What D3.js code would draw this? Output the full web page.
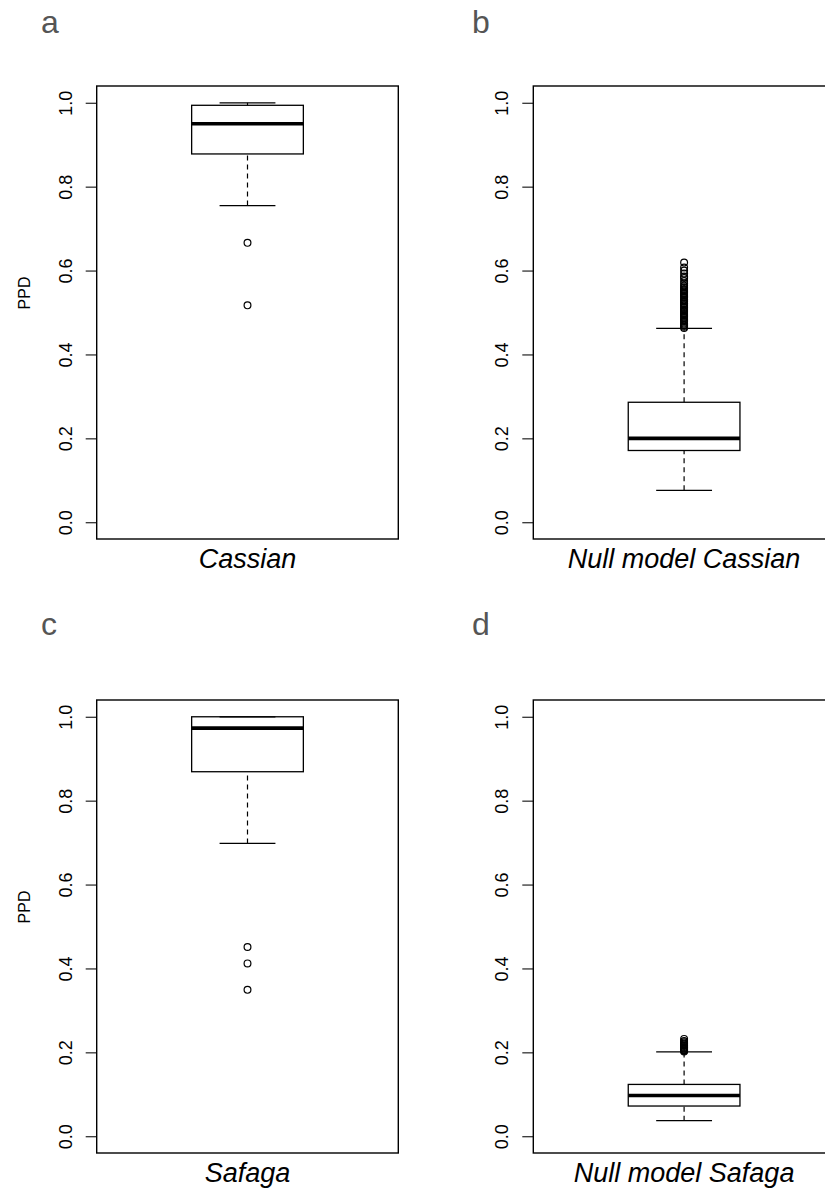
<!DOCTYPE html>
<html>
<head>
<meta charset="utf-8">
<script src="https://cdn.jsdelivr.net/npm/d3@7"></script>
<style>
  body { margin: 0; background: #fff; }
  svg { display: block; font-family: "Liberation Sans", Arial, sans-serif; }
</style>
</head>
<body>
<div id="chart"></div>
<script>
// values
const panelLetters = ["a", "b", "c", "d"];
const groupNames = ["Cassian", "Null model Cassian", "Safaga", "Null model Safaga"];
const lowerWhisker = [0.755, 0.076, 0.698, 0.037];
const q1Values = [0.878, 0.171, 0.869, 0.072];
const medianValues = [0.950, 0.200, 0.973, 0.097];
const q3Values = [0.994, 0.286, 1.000, 0.1235];
const upperWhisker = [1.000, 0.462, 1.000, 0.201];
const outlierValues = [
    [0.666, 0.517],
    [0.463, 0.466, 0.469, 0.471, 0.474, 0.478, 0.481, 0.483, 0.487, 0.490, 0.492, 0.496,
     0.499, 0.502, 0.504, 0.508, 0.511, 0.513, 0.517, 0.520, 0.522, 0.526, 0.529, 0.531,
     0.535, 0.538, 0.541, 0.544, 0.547, 0.550, 0.553, 0.556, 0.560, 0.564, 0.569, 0.575,
     0.582, 0.586, 0.593, 0.600, 0.607, 0.619],
    [0.451, 0.412, 0.349],
    [0.202, 0.204, 0.205, 0.207, 0.209, 0.211, 0.213, 0.215, 0.217, 0.219, 0.221, 0.224,
     0.227, 0.232]
];
const yTicks = [0, 0.2, 0.4, 0.6, 0.8, 1.0];
const yLabel = "PPD";

//Page and panel layout
const W = 825, H = 1189;
const plotW = 301.6, plotH = 453;
const panelLeft = [96.7, 533.3, 96.7, 533.3];
const panelTop = [86, 86, 700, 700];
const letterPos = [[41, 33], [472, 33], [41, 635], [472, 635]];

const svg = d3.select("#chart").append("svg")
    .attr("width", W)
    .attr("height", H);

panelLetters.forEach((letter, i) => {
    let left = panelLeft[i], top = panelTop[i];

    //R style extended range, 4% each side
    let y = d3.scaleLinear().domain([-0.04, 1.04]).range([top + plotH, top]);
    let x = d3.scaleLinear().domain([0.46, 1.54]).range([left, left + plotW]);

    let g = svg.append("g");

    //panel letter
    svg.append("text")
        .attr("x", letterPos[i][0])
        .attr("y", letterPos[i][1])
        .attr("fill", "#555")
        .style("font-size", "32px")
        .text(letter);

    //y axis with rotated labels
    let axis = g.append("g")
        .attr("transform", "translate(" + left + ",0)")
        .call(d3.axisLeft(y).tickValues(yTicks).tickSize(11).tickFormat(d3.format(".1f")));
    axis.select(".domain").remove();
    axis.selectAll("line").attr("stroke", "#222").attr("stroke-width", 1.2);
    axis.selectAll("text")
        .attr("x", null)
        .attr("dy", null)
        .attr("fill", "#000")
        .attr("text-anchor", "middle")
        .attr("transform", "translate(-25,0) rotate(-90)")
        .style("font-size", "18px")
        .style("font-family", "Liberation Sans, Arial, sans-serif");

    //y label only on left column
    if (i % 2 === 0) {
        svg.append("text")
            .attr("transform", "translate(30," + (top + 207) + ") rotate(-90)")
            .attr("text-anchor", "middle")
            .attr("fill", "#000")
            .style("font-size", "16px")
            .text(yLabel);
    }

    //group name under the plot
    svg.append("text")
        .attr("x", left + plotW / 2)
        .attr("y", top + plotH + 29)
        .attr("text-anchor", "middle")
        .attr("fill", "#000")
        .style("font-size", "27px")
        .style("font-style", "italic")
        .text(groupNames[i]);

    //whiskers (dashed)
    g.append("line")
        .attr("x1", x(1)).attr("x2", x(1))
        .attr("y1", y(lowerWhisker[i])).attr("y2", y(q1Values[i]))
        .attr("stroke", "#000").attr("stroke-width", 1.2)
        .attr("stroke-dasharray", "5,4");
    g.append("line")
        .attr("x1", x(1)).attr("x2", x(1))
        .attr("y1", y(q3Values[i])).attr("y2", y(upperWhisker[i]))
        .attr("stroke", "#000").attr("stroke-width", 1.2)
        .attr("stroke-dasharray", "5,4");

    //whisker caps
    [lowerWhisker[i], upperWhisker[i]].forEach((v) => {
        g.append("line")
            .attr("x1", x(0.9)).attr("x2", x(1.1))
            .attr("y1", y(v)).attr("y2", y(v))
            .attr("stroke", "#000").attr("stroke-width", 1.3);
    });

    //box
    g.append("rect")
        .attr("x", x(0.8))
        .attr("y", y(q3Values[i]))
        .attr("width", x(1.2) - x(0.8))
        .attr("height", y(q1Values[i]) - y(q3Values[i]))
        .attr("fill", "none")
        .attr("stroke", "#000")
        .attr("stroke-width", 1.3);

    //median
    g.append("line")
        .attr("x1", x(0.8)).attr("x2", x(1.2))
        .attr("y1", y(medianValues[i])).attr("y2", y(medianValues[i]))
        .attr("stroke", "#000").attr("stroke-width", 3.6);

    //outliers
    g.selectAll("circle.out")
        .data(outlierValues[i])
        .enter().append("circle")
        .attr("class", "out")
        .attr("cx", x(1))
        .attr("cy", (d) => y(d))
        .attr("r", 3.4)
        .attr("fill", "none")
        .attr("stroke", "#000")
        .attr("stroke-width", 1.2);

    //plot frame
    g.append("rect")
        .attr("x", left)
        .attr("y", top)
        .attr("width", plotW)
        .attr("height", plotH)
        .attr("fill", "none")
        .attr("stroke", "#000")
        .attr("stroke-width", 1.4);
});
</script>
</body>
</html>
